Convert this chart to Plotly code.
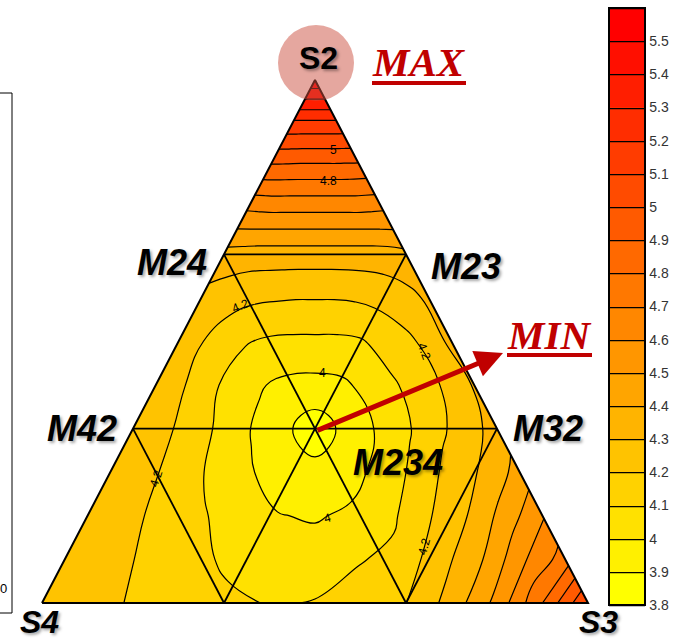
import plotly.graph_objects as go

# Corner positions of the composition triangle in plot units (1 unit = 1 px)
S4_XY = (42.0, 603.0)
S3_XY = (588.0, 603.0)
S2_XY = (315.0, 80.0)

# Lattice: rows of constant S2 fraction (bottom -> apex),
# columns spread evenly across each row (S4 side -> S3 side)
row_s2 = [j / 12 for j in range(13)]
col_frac = [i / 12 for i in range(13)]

# Response surface sampled on the lattice, one list per row
z_row00 = [4.28, 4.24, 4.19, 4.16, 4.12, 4.095, 4.105, 4.15, 4.198, 4.34, 4.53, 4.80, 5.10]
z_row01 = [4.28, 4.24, 4.18, 4.13, 4.08, 4.05, 4.05, 4.09, 4.13, 4.26, 4.395, 4.585, 4.75]
z_row02 = [4.27, 4.23, 4.17, 4.11, 4.056, 4.005, 3.99, 4.02, 4.08, 4.19, 4.298, 4.44, 4.59]
z_row03 = [4.29, 4.23, 4.16, 4.08, 4.015, 3.95, 3.93, 3.96, 4.04, 4.13, 4.24, 4.32, 4.44]
z_row04 = [4.29, 4.225, 4.15, 4.07, 3.99, 3.92, 3.845, 3.925, 4.005, 4.085, 4.17, 4.255, 4.34]
z_row05 = [4.28, 4.21, 4.125, 4.06, 4.005, 3.975, 3.97, 3.98, 4.03, 4.09, 4.152, 4.22, 4.31]
z_row06 = [4.28, 4.205, 4.15, 4.105, 4.085, 4.08, 4.08, 4.08, 4.09, 4.133, 4.175, 4.23, 4.33]
z_row07 = [4.27, 4.245, 4.225, 4.215, 4.21, 4.205, 4.205, 4.205, 4.21, 4.22, 4.24, 4.27, 4.32]
z_row08 = [4.36, 4.355, 4.35, 4.35, 4.35, 4.35, 4.35, 4.35, 4.35, 4.35, 4.35, 4.355, 4.37]
z_row09 = [4.60, 4.605, 4.61, 4.61, 4.61, 4.61, 4.61, 4.61, 4.61, 4.61, 4.61, 4.605, 4.60]
z_row10 = [4.88, 4.88, 4.878, 4.876, 4.875, 4.875, 4.875, 4.875, 4.875, 4.875, 4.873, 4.872, 4.87]
z_row11 = [5.17] * 13
z_row12 = [5.58] * 13
z_grid = [z_row00, z_row01, z_row02, z_row03, z_row04, z_row05, z_row06,
          z_row07, z_row08, z_row09, z_row10, z_row11, z_row12]

# Colour bar range, levels and labels
bar_range = [3.8, 5.6]
bar_ticks = [3.8, 3.9, 4.0, 4.1, 4.2, 4.3, 4.4, 4.5, 4.6, 4.7, 4.8,
             4.9, 5.0, 5.1, 5.2, 5.3, 5.4, 5.5]
bar_labels = ["3.8", "3.9", "4", "4.1", "4.2", "4.3", "4.4", "4.5", "4.6",
              "4.7", "4.8", "4.9", "5", "5.1", "5.2", "5.3", "5.4", "5.5"]
LEVEL_STEP = 0.1


def bary_to_xy(s2, s3):
    s4 = 1.0 - s2 - s3
    x = s4 * S4_XY[0] + s3 * S3_XY[0] + s2 * S2_XY[0]
    y = s4 * S4_XY[1] + s3 * S3_XY[1] + s2 * S2_XY[1]
    return x, y


grid_x, grid_y = [], []
for s2 in row_s2:
    rx, ry = [], []
    for a in col_frac:
        x, y = bary_to_xy(s2, a * (1.0 - s2))
        rx.append(x)
        ry.append(y)
    grid_x.append(rx)
    grid_y.append(ry)


def band_color(k, n):
    g = round(255 * (n - 1 - k) / (n - 1))
    return f"rgb(255,{g},0)"


n_bands = len(bar_ticks)
# stepped yellow -> red scale, one flat step per 0.1 band
stepped = []
for k in range(n_bands):
    stepped.append([k / n_bands, band_color(k, n_bands)])
    stepped.append([(k + 1) / n_bands, band_color(k, n_bands)])

# the filled contours sample the scale at band mid-levels, padded by half a band
n_fill = n_bands + 1
fill_scale = [[0.0, band_color(0, n_bands)], [1 / n_fill, band_color(0, n_bands)],
              [(n_fill - 1) / n_fill, band_color(n_bands - 1, n_bands)],
              [1.0, band_color(n_bands - 1, n_bands)]]

fig = go.Figure()

hidden_axis = dict(showgrid=False, showline=False, showticklabels="none",
                   startline=False, endline=False, smoothing=0,
                   minorgridcount=0, gridwidth=0)
fig.add_trace(go.Carpet(a=col_frac, b=row_s2, x=grid_x, y=grid_y,
                        carpet="tri", aaxis=hidden_axis, baxis=hidden_axis))

level_spec = dict(start=bar_range[0], end=bar_range[1], size=LEVEL_STEP, showlines=True)

fig.add_trace(go.Contourcarpet(
    a=col_frac, b=row_s2, z=z_grid, carpet="tri",
    autocontour=False,
    contours=dict(level_spec, coloring="fill"),
    line=dict(color="black", width=1.2, smoothing=1.3),
    colorscale=fill_scale, showscale=False,
))

# Colour bar carrier: an off-screen contour whose bar spans the level range
fig.add_trace(go.Contour(
    x=[-60, -50], y=[-60, -50], z=[[bar_range[0], bar_range[1]], [bar_range[0], bar_range[1]]],
    zmin=bar_range[0], zmax=bar_range[1], autocontour=False,
    contours=dict(level_spec, coloring="heatmap"),
    line=dict(color="black", width=1.3),
    colorscale=stepped, hoverinfo="skip",
    colorbar=dict(
        x=609 / 687, xanchor="left", xpad=0,
        y=1 - 8 / 641, yanchor="top", ypad=0,
        len=597, lenmode="pixels",
        thickness=36, thicknessmode="pixels",
        outlinecolor="black", outlinewidth=2,
        tickmode="array", tickvals=bar_ticks, ticktext=bar_labels,
        ticks="", tickfont=dict(family="Liberation Sans", size=14, color="#333"),
    ),
))

# 1/3 lattice lines
for k in (1 / 3, 2 / 3):
    for p0, p1 in (
        (bary_to_xy(k, 0.0), bary_to_xy(k, 1.0 - k)),          # constant S2
        (bary_to_xy(0.0, k), bary_to_xy(1.0 - k, k)),          # constant S3
        (bary_to_xy(0.0, 1.0 - k), bary_to_xy(1.0 - k, 0.0)),  # constant S4
    ):
        fig.add_trace(go.Scatter(x=[p0[0], p1[0]], y=[p0[1], p1[1]], mode="lines",
                                 line=dict(color="black", width=1.8),
                                 hoverinfo="skip", showlegend=False))

# Triangle outline
fig.add_trace(go.Scatter(x=[S4_XY[0], S3_XY[0], S2_XY[0], S4_XY[0]],
                         y=[S4_XY[1], S3_XY[1], S2_XY[1], S4_XY[1]],
                         mode="lines", line=dict(color="black", width=2),
                         hoverinfo="skip", showlegend=False))

RED = "#C00000"
shapes = [
    dict(type="circle", xref="x", yref="y", x0=278, x1=354, y0=25, y1=101,
         fillcolor="rgba(204,80,64,0.5)", line=dict(width=0), layer="above"),
    dict(type="line", xref="x", yref="y", x0=372, x1=466, y0=83, y1=83,
         line=dict(color=RED, width=4)),
    dict(type="line", xref="x", yref="y", x0=507, x1=592, y0=355, y1=355,
         line=dict(color=RED, width=4)),
    dict(type="rect", xref="x", yref="y", x0=-5, x1=12, y0=93, y1=613,
         line=dict(color="black", width=1)),
]

shadow = "2px 2px 3px rgba(0,0,0,0.35)"
bold_it = dict(family="Liberation Sans", size=36, color="black", weight="bold",
               style="italic", shadow=shadow)

annotations = []


def label(text, x, y, font, **kw):
    annotations.append(dict(text=text, x=x, y=y, xref="x", yref="y",
                            showarrow=False, font=font, **kw))


for txt, x, y in (("M24", 172, 262), ("M23", 466, 266), ("M42", 82, 428),
                  ("M32", 548, 428), ("M234", 398, 462)):
    label(txt, x, y, bold_it)
label("S4", 39, 622, dict(bold_it, size=32))
label("S3", 598, 622, dict(bold_it, size=32))
label("S2", 318, 58, dict(family="Liberation Sans", size=32, color="black",
                          weight="bold", shadow=shadow))
serif = dict(family="Liberation Serif", size=41, color=RED, weight="bold", style="italic")
label("MAX", 419, 62, serif)
label("MIN", 549, 335, serif)

# Contour value labels
small = dict(family="Liberation Sans", size=12, color="black")
for txt, x, y, ang in (("5", 333, 150, 0), ("4.8", 328, 181, 0),
                       ("4.2", 240, 306, -22), ("4.2", 424, 351, 70),
                       ("4.2", 156, 479, -72), ("4.2", 424, 547, -75),
                       ("4", 322, 373, 0), ("4", 327, 518, -15)):
    label(txt, x, y, small, textangle=ang)

label("0", 3, 588, dict(family="Liberation Sans", size=13, color="black"))

# Arrow from the composition centre towards the MIN caption
annotations.append(dict(x=503, y=353, ax=316, ay=431, xref="x", yref="y",
                        axref="x", ayref="y", text="", showarrow=True,
                        arrowhead=2, arrowsize=1.1, arrowwidth=5,
                        arrowcolor=RED, standoff=0, startstandoff=0))

fig.update_layout(
    width=687, height=641,
    margin=dict(l=0, r=0, t=0, b=0),
    paper_bgcolor="white", plot_bgcolor="white",
    xaxis=dict(range=[0, 687], visible=False, fixedrange=True),
    yaxis=dict(range=[641, 0], visible=False, fixedrange=True),
    showlegend=False,
    shapes=shapes,
    annotations=annotations,
)

fig.write_html("out.html")
